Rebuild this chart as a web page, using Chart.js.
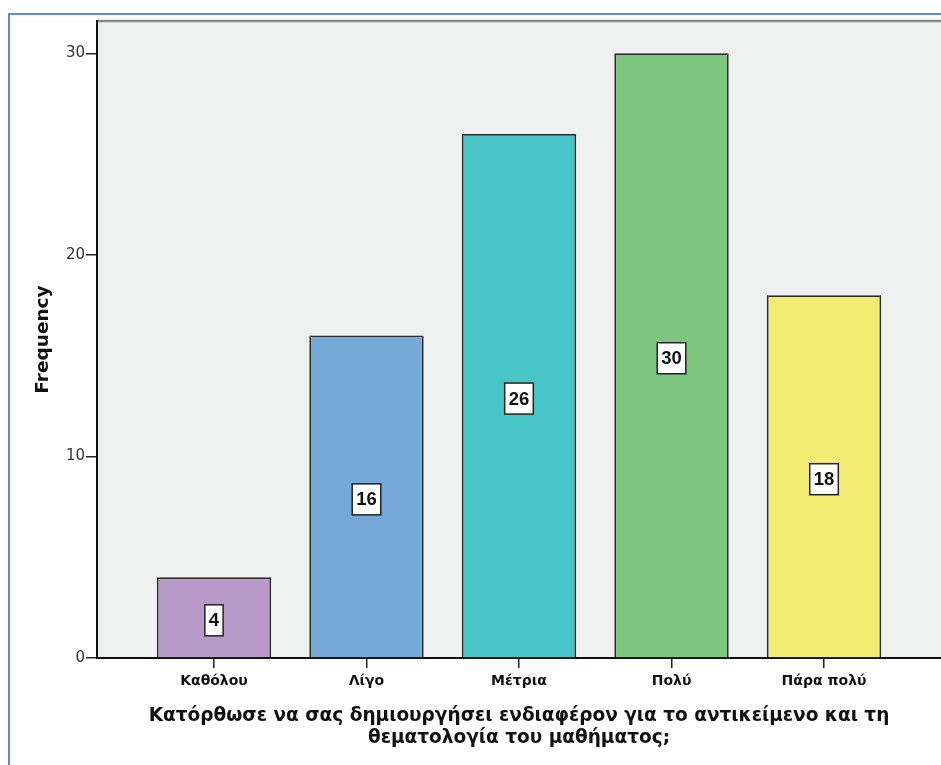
<!DOCTYPE html>
<html>
<head>
<meta charset="utf-8">
<script src="https://cdn.jsdelivr.net/npm/chart.js@4"></script>
<style>
  body { margin: 0; background: #fff; }
  #wrap { position: relative; width: 941px; height: 765px; }
  #frame {
    position: absolute; left: 8px; top: 13px; right: -2px; bottom: -2px;
    border-left: 2px solid #5b8bd0; border-top: 2px solid #5b8bd0;
    pointer-events: none;
  }
</style>
</head>
<body>
<div id="wrap">
  <canvas id="chart" width="941" height="765"></canvas>
  <div id="frame"></div>
</div>
<script>
const categories = ['Καθόλου', 'Λίγο', 'Μέτρια', 'Πολύ', 'Πάρα πολύ'];
const frequencies = [4, 16, 26, 30, 18];
const barColors = ['#b899c8', '#75a8d6', '#48c3c6', '#7dc67f', '#f2ed72'];
const yTicks = [0, 10, 20, 30];
const xTitle = ['Κατόρθωσε να σας δημιουργήσει ενδιαφέρον για το αντικείμενο και τη',
  'θεματολογία του μαθήματος;'];
const yTitle = 'Frequency';

const FONT = '"DejaVu Sans", Verdana, sans-serif';

// gray plot background with a gray line across the top
const plotBackground = {
  id: 'plotBackground',
  beforeDraw(chart) {
    const { ctx, chartArea: a } = chart;
    ctx.save();
    ctx.fillStyle = '#eff0f0';
    ctx.fillRect(a.left, a.top, a.right - a.left, a.bottom - a.top);
    ctx.strokeStyle = '#8a8a8a';
    ctx.lineWidth = 2.5;
    ctx.beginPath();
    ctx.moveTo(a.left, a.top);
    ctx.lineTo(a.right, a.top);
    ctx.stroke();
    ctx.restore();
  }
};

// boxed value labels in the middle of each bar, plus axis titles
const valueBoxes = {
  id: 'valueBoxes',
  afterDatasetsDraw(chart) {
    const { ctx } = chart;
    const meta = chart.getDatasetMeta(0);
    ctx.save();
    ctx.font = 'bold 18.5px "Liberation Sans", Arial, sans-serif';
    ctx.textAlign = 'center';
    ctx.textBaseline = 'middle';
    meta.data.forEach((bar, i) => {
      const text = String(frequencies[i]);
      const w = ctx.measureText(text).width + 8;
      const h = 31;
      const cy = (bar.y + bar.base) / 2 + 3;
      ctx.fillStyle = '#fff';
      ctx.fillRect(bar.x - w / 2, cy - h / 2, w, h);
      ctx.strokeStyle = '#222';
      ctx.lineWidth = 1.5;
      ctx.strokeRect(bar.x - w / 2, cy - h / 2, w, h);
      ctx.fillStyle = '#111';
      ctx.fillText(text, bar.x, cy + 1);
    });
    ctx.restore();
  },
  afterDraw(chart) {
    const { ctx, chartArea: a } = chart;
    ctx.save();
    ctx.fillStyle = '#111';
    ctx.textAlign = 'center';
    ctx.textBaseline = 'middle';
    ctx.font = 'bold 18.5px ' + FONT;
    const cx = (a.left + a.right) / 2;
    ctx.fillText(xTitle[0], cx, 716);
    ctx.fillText(xTitle[1], cx, 738);
    ctx.translate(43, (a.top + a.bottom) / 2);
    ctx.rotate(-Math.PI / 2);
    ctx.font = 'bold 18.5px ' + FONT;
    ctx.fillText(yTitle, 0, 0);
    ctx.restore();
  }
};

new Chart(document.getElementById('chart'), {
  type: 'bar',
  data: {
    datasets: [{
      data: frequencies.map((v, i) => ({ x: i, y: v })),
      backgroundColor: barColors,
      borderColor: '#2a2a2a',
      borderWidth: 1.8,
      barPercentage: 0.75,
      categoryPercentage: 1
    }]
  },
  options: {
    responsive: false,
    animation: false,
    layout: { padding: { top: 21, right: 0, left: 0, bottom: 0 } },
    plugins: {
      legend: { display: false },
      tooltip: { enabled: false }
    },
    scales: {
      x: {
        type: 'linear',
        offset: false,
        min: -0.767,
        max: 4.767,
        afterBuildTicks: s => { s.ticks = categories.map((c, i) => ({ value: i })); },
        afterFit: s => { s.height = 107; },
        ticks: {
          callback: v => categories[v],
          font: { family: FONT, size: 14, weight: 'bold' },
          color: '#111',
          padding: 5,
          maxRotation: 0,
          autoSkip: false
        },
        grid: { offset: false, drawOnChartArea: false, tickLength: 10, color: '#222', lineWidth: 1.5 },
        border: { color: '#111', width: 2 }
      },
      y: {
        min: 0,
        max: 31.6,
        afterBuildTicks: s => { s.ticks = yTicks.map(v => ({ value: v })); },
        afterFit: s => { s.width = 97; },
        ticks: {
          font: { family: FONT, size: 15 },
          color: '#333',
          padding: 1
        },
        grid: { drawOnChartArea: false, tickLength: 11, color: '#222', lineWidth: 1.5 },
        border: { color: '#111', width: 2 }
      }
    }
  },
  plugins: [plotBackground, valueBoxes]
});
</script>
</body>
</html>
